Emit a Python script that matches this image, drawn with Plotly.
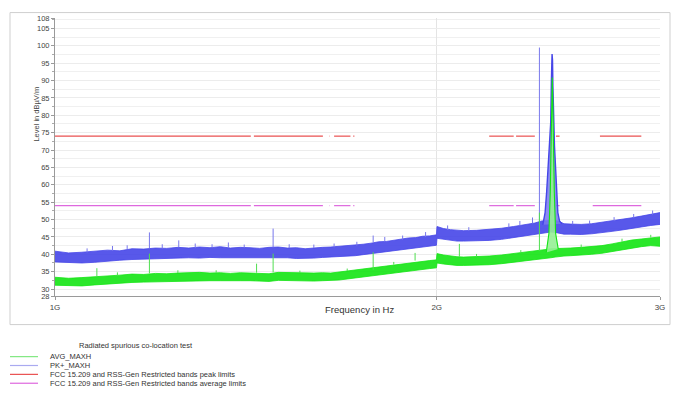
import plotly.graph_objects as go

# ---------------- data (frequencies in MHz, levels in dBuV/m) ----------------
# noise floor of both detectors (lower / upper edge of the trace band)
F_BASE = [1000, 1025, 1050, 1075, 1100, 1125, 1150, 1175, 1200, 1225, 1250, 1275, 1300,
          1325, 1350, 1375, 1400, 1425, 1450, 1475, 1500, 1525, 1550, 1575, 1600, 1625,
          1650, 1675, 1700, 1725, 1750, 1775, 1800, 1825, 1850, 1875, 1900, 1925, 1950,
          1975, 1999,
          2001, 2025, 2050, 2075, 2100, 2150, 2200, 2250, 2300, 2350, 2390, 2420, 2440,
          2460, 2480, 2500, 2520, 2550, 2600, 2650, 2700, 2750, 2800, 2850, 2900, 2950,
          3000]

PK_HI = [40.9, 40.4, 40.6, 40.8, 41.2, 41.0, 41.6, 41.5, 41.8, 41.7, 42.0, 41.8, 42.1,
         41.9, 42.2, 41.8, 42.0, 41.9, 41.7, 42.0, 42.1, 41.8, 41.9, 41.6, 41.9, 42.0,
         42.1, 42.3, 42.4, 42.6, 42.9, 43.2, 43.6, 43.7, 44.1, 44.3, 44.7, 44.8, 45.2,
         45.3, 45.6,
         48.0, 47.4, 47.1, 46.9, 46.8, 46.9, 47.1, 47.5, 48.0, 48.6, 49.0, 49.6, 49.6,
         49.8, 49.8, 49.4, 48.8, 48.7, 48.6, 48.8, 49.2, 49.6, 50.0, 50.5, 51.0, 51.5,
         52.0]
PK_LO = [37.8, 37.6, 37.5, 37.7, 37.9, 38.3, 38.5, 38.6, 38.8, 38.8, 38.9, 39.0, 38.9,
         39.1, 39.0, 39.0, 39.1, 38.9, 38.9, 39.0, 39.1, 39.0, 38.8, 38.8, 38.9, 39.1,
         39.2, 39.2, 39.4, 39.6, 39.9, 40.2, 40.5, 40.7, 41.0, 41.3, 41.6, 41.9, 42.1,
         42.4, 42.6,
         44.6, 44.3, 44.0, 43.8, 43.8, 43.8, 44.0, 44.3, 44.8, 45.3, 45.7, 46.1, 46.3,
         46.4, 46.3, 46.0, 45.8, 45.8, 45.7, 45.9, 46.2, 46.6, 47.0, 47.5, 47.9, 48.3,
         48.6]

AVG_HI = [33.4, 33.1, 33.3, 33.5, 33.9, 34.0, 34.3, 34.2, 34.5, 34.4, 34.6, 34.7, 34.8,
          34.6, 34.7, 34.5, 34.7, 34.6, 34.6, 34.4, 34.8, 34.7, 34.6, 34.5, 34.6, 34.7,
          34.6, 34.9, 35.2, 35.5, 35.9, 36.2, 36.5, 36.7, 37.0, 37.3, 37.5, 37.7, 38.0,
          38.2, 38.4,
          40.2, 39.8, 39.5, 39.3, 39.2, 39.3, 39.5, 39.8, 40.2, 40.5, 40.9, 41.2, 41.4,
          41.6, 41.6, 41.7, 41.7, 41.8, 42.0, 42.2, 42.5, 43.0, 43.6, 44.1, 44.4, 44.8,
          45.0]
AVG_LO = [31.1, 30.9, 30.9, 31.2, 31.5, 31.7, 31.9, 32.0, 32.1, 32.2, 32.3, 32.4, 32.5,
          32.4, 32.4, 32.3, 32.4, 32.4, 32.3, 32.2, 32.5, 32.4, 32.4, 32.2, 32.3, 32.4,
          32.4, 32.6, 32.9, 33.2, 33.6, 33.9, 34.2, 34.4, 34.7, 35.0, 35.2, 35.4, 35.7,
          35.9, 36.1,
          37.5, 37.2, 36.9, 36.8, 36.8, 36.8, 37.0, 37.3, 37.7, 38.0, 38.3, 38.6, 38.8,
          39.0, 39.2, 39.4, 39.5, 39.6, 39.7, 40.0, 40.3, 40.8, 41.3, 41.8, 42.2, 42.5,
          42.3]

# carrier (transmitter in band) outline, peak detector and average detector
PK_CARRIER_F = [2425, 2435, 2442, 2448, 2452, 2456, 2460, 2463, 2466, 2468, 2470, 2473,
                2477, 2481, 2486, 2492, 2500, 2510]
PK_CARRIER_L = [48.5, 52.0, 58.0, 66.0, 71.0, 73.0, 78.0, 90.0, 97.6, 96.0, 88.0, 75.0,
                71.0, 66.0, 58.0, 52.0, 49.5, 48.8]
AVG_CARRIER_F = [2440, 2452, 2458, 2462, 2465, 2467, 2469, 2472, 2476, 2482, 2494]
AVG_CARRIER_L = [40.5, 46.0, 58.0, 72.0, 85.0, 90.9, 85.0, 72.0, 58.0, 46.0, 41.5]

# discrete spurious peaks above the noise floor
PK_SPIKE_F = [1187, 1252, 1486, 1782, 2326, 2410,
              1060, 1110, 1140, 1215, 1290, 1330, 1370, 1410, 1530, 1600, 1660, 1730,
              1820, 1880, 1960, 2040, 2120, 2280, 2380, 2560, 2640, 2760, 2860, 2960]
PK_SPIKE_BASE = [41.8, 42.0, 42.0, 43.5, 48.2, 49.4,
                 40.5, 41.0, 41.4, 41.7, 41.8, 41.9, 41.8, 41.9, 41.8, 41.8, 42.0, 42.5,
                 43.6, 44.2, 45.0, 47.0, 46.7, 47.8, 48.9, 48.6, 48.6, 49.6, 50.5, 51.4]
PK_SPIKE_TOP = [46.3, 44.0, 47.4, 45.4, 49.6, 99.5,
                41.7, 42.4, 42.6, 42.9, 43.1, 42.9, 43.4, 42.8, 42.9, 42.8, 43.1, 43.6,
                45.0, 45.4, 46.4, 48.3, 47.8, 48.9, 50.6, 49.6, 49.7, 50.7, 51.6, 52.6]

AVG_SPIKE_F = [1079, 1187, 1442, 1486, 1782, 1923, 2084, 2410,
               1120, 1250, 1340, 1560, 1700, 1850, 2150, 2330, 2600, 2800, 2950]
AVG_SPIKE_BASE = [33.7, 34.5, 34.7, 34.8, 35.5, 38.2, 39.3, 41.0,
                  33.9, 34.6, 34.7, 34.6, 35.2, 37.0, 39.3, 40.3, 42.0, 43.6, 44.8]
AVG_SPIKE_TOP = [36.0, 40.2, 37.3, 40.2, 40.6, 40.4, 43.0, 52.0,
                 34.8, 35.4, 35.4, 35.3, 35.9, 37.8, 40.1, 41.2, 42.8, 44.5, 45.6]

PEAK_BANDS_START = [1000, 1435, 1645.5, 1660, 1718.8, 2200, 2310, 2483.5, 2690]
PEAK_BANDS_END = [1427, 1626.5, 1646.5, 1710, 1722.2, 2300, 2390, 2500, 2900]
AVG_BANDS_START = [1000, 1435, 1645.5, 1660, 1718.8, 2200, 2310, 2483.5, 2655]
AVG_BANDS_END = [1427, 1626.5, 1646.5, 1710, 1722.2, 2300, 2390, 2500, 2900]
PEAK_LIMIT = 74
AVG_LIMIT = 54

Y_TICKS = [28, 30, 35, 40, 45, 50, 55, 60, 65, 70, 75, 80, 85, 90, 95, 100, 105, 108]
X_TICKS = [1000, 2000, 3000]
X_TICK_TEXT = ["1G", "2G", "3G"]

LEGEND_TITLE = "Radiated spurious co-location test"
LEGEND_NAMES = ["AVG_MAXH", "PK+_MAXH",
                "FCC 15.209 and RSS-Gen Restricted bands peak limits",
                "FCC 15.209 and RSS-Gen Restricted bands average limits"]

# ---------------- styles ----------------
BLUE = "rgb(70,70,232)"
BLUE_FILL = "rgba(70,70,232,0.9)"
BLUE_PEAK_FILL = "rgba(120,120,238,0.85)"
GREEN = "rgb(20,228,20)"
GREEN_FILL = "rgba(20,228,20,0.9)"
GREEN_PEAK_FILL = "rgba(150,240,150,0.9)"
RED = "rgb(234,80,80)"
PINK = "rgb(222,104,222)"
LEGEND_COLORS = ["rgb(130,232,130)", "rgb(170,170,240)", RED, PINK]
FONT = "Liberation Sans, Arial, sans-serif"


def segs(starts, ends, level):
    xs, ys = [], []
    for a, b in zip(starts, ends):
        xs += [a, b, None]
        ys += [level, level, None]
    return xs, ys


def spikes(fs, base, top):
    xs, ys = [], []
    for f, b, t in zip(fs, base, top):
        xs += [f, f, None]
        ys += [b, t, None]
    return xs, ys


def line(x, y, color, width, **kw):
    return go.Scatter(x=x, y=y, mode="lines", line=dict(color=color, width=width),
                      showlegend=False, hoverinfo="skip", **kw)


fig = go.Figure()

# limits
px, py = segs(PEAK_BANDS_START, PEAK_BANDS_END, PEAK_LIMIT)
ax, ay = segs(AVG_BANDS_START, AVG_BANDS_END, AVG_LIMIT)
fig.add_trace(line(px, py, RED, 1.2))
fig.add_trace(line(ax, ay, PINK, 1.2))

# PK+ trace
fig.add_trace(line(F_BASE, PK_LO, BLUE, 0.8))
fig.add_trace(line(F_BASE, PK_HI, BLUE, 0.8, fill="tonexty", fillcolor=BLUE_FILL))
fig.add_trace(line(PK_CARRIER_F, PK_CARRIER_L, BLUE, 1.4, fill="toself",
                   fillcolor=BLUE_PEAK_FILL))
sx, sy = spikes(PK_SPIKE_F, PK_SPIKE_BASE, PK_SPIKE_TOP)
fig.add_trace(line(sx, sy, "rgb(120,120,236)", 1))

# AVG trace
fig.add_trace(line(F_BASE, AVG_LO, GREEN, 0.8))
fig.add_trace(line(F_BASE, AVG_HI, GREEN, 0.8, fill="tonexty", fillcolor=GREEN_FILL))
fig.add_trace(line(AVG_CARRIER_F, AVG_CARRIER_L, GREEN, 1.1, fill="toself",
                   fillcolor=GREEN_PEAK_FILL))
gx, gy = spikes(AVG_SPIKE_F, AVG_SPIKE_BASE, AVG_SPIKE_TOP)
fig.add_trace(line(gx, gy, "rgb(80,222,80)", 1))

# layout geometry: page pixels (page has an 8px body margin)
OFF = 8
W, H = 679 - OFF, 395 - OFF
PLOT_L, PLOT_R, PLOT_T, PLOT_B = 55, 660, 14, 296      # page px
L, T = PLOT_L - OFF, PLOT_T - OFF
R = W - (PLOT_R - OFF)
B = H - (PLOT_B - OFF)
PW, PH = PLOT_R - PLOT_L, PLOT_B - PLOT_T


def xp(px_):
    return (px_ - PLOT_L) / PW


def yp(py_):
    return (PLOT_B - py_) / PH


fig.update_layout(
    width=W, height=H,
    margin=dict(l=L, r=R, t=T, b=B),
    paper_bgcolor="white", plot_bgcolor="white",
    font=dict(family=FONT, size=8, color="#444"),
    showlegend=False,
    xaxis=dict(type="log", range=[3, 3.47712], tickvals=X_TICKS, ticktext=X_TICK_TEXT,
               showgrid=True, gridcolor="#e4e4e4", gridwidth=1,
               showline=True, linecolor="#9a9a9a", linewidth=1,
               ticks="outside", ticklen=3, tickcolor="#9a9a9a",
               tickfont=dict(size=8, color="#444"), zeroline=False),
    yaxis=dict(range=[28, 108], tickvals=Y_TICKS, showgrid=True, gridcolor="#ececec",
               showline=True, linecolor="#9a9a9a", linewidth=1,
               ticks="outside", ticklen=3, tickcolor="#9a9a9a",
               tickfont=dict(size=7.5, color="#444"), zeroline=False,
               minor=dict(dtick=2.5, tick0=0, ticks="outside", ticklen=2, tickcolor="#aaaaaa",
                          showgrid=True, gridcolor="#f0f0f0")),
)

shapes = [dict(type="rect", xref="paper", yref="paper",
               x0=xp(10), x1=xp(670), y0=yp(325), y1=yp(8.5),
               line=dict(color="#cfcfcf", width=1), layer="below")]
annotations = [
    dict(text="Level in dBµV/m", xref="paper", yref="paper", x=xp(37), y=yp(112),
         xanchor="center", yanchor="middle",
         textangle=-90, showarrow=False, font=dict(size=7.5, color="#444")),
    dict(text="Frequency in Hz", xref="paper", yref="paper", x=xp(359), y=yp(310),
         xanchor="center", yanchor="middle",
         showarrow=False, font=dict(size=9.5, color="#333")),
    dict(text=LEGEND_TITLE, xref="paper", yref="paper", x=xp(77), y=yp(346),
         xanchor="left", yanchor="middle", showarrow=False, font=dict(size=7.5, color="#333")),
]
leg_y = [357.5, 366.5, 375.5, 384.5]
for name, col, yy in zip(LEGEND_NAMES, LEGEND_COLORS, leg_y):
    shapes.append(dict(type="line", xref="paper", yref="paper", x0=xp(10), x1=xp(38),
                       y0=yp(yy), y1=yp(yy), line=dict(color=col, width=1.2)))
    annotations.append(dict(text=name, xref="paper", yref="paper", x=xp(48), y=yp(yy),
                            xanchor="left", yanchor="middle", showarrow=False,
                            font=dict(size=7.5, color="#333")))
fig.update_layout(shapes=shapes, annotations=annotations)

fig.write_html("out.html")
